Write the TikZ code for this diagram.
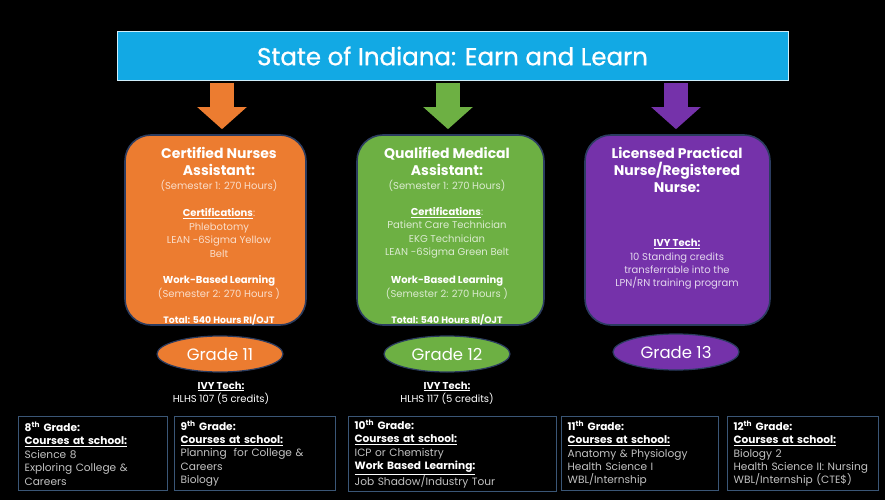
\documentclass[tikz,border=0pt]{standalone}
\usepackage{fontspec}
\setmainfont{Poppins}
\newfontfamily\titlefont[FakeBold=0.8]{Poppins}
\usepackage{xcolor}
\usetikzlibrary{arrows.meta,shapes.geometric}

\definecolor{titleblue}{HTML}{12A9E4}
\definecolor{cnaorange}{HTML}{EC7C30}
\definecolor{qmagreen}{HTML}{6DB043}
\definecolor{lpnpurple}{HTML}{7532AA}
\definecolor{edgenavy}{HTML}{2B3C60}
\definecolor{gridblue}{HTML}{3A5676}
\definecolor{softgray}{HTML}{C2C2C2}

\newcommand{\wbold}[1]{\textcolor{white}{\bfseries #1}}

\begin{document}
\begin{tikzpicture}
[
x=1pt,y=-1pt,
track/.style 2 args={draw=edgenavy,line width=1.6pt,fill=#1,rounded corners=26pt,
            minimum width=#2,minimum height=190pt,inner sep=0pt},
headtxt/.style={text=white,font=\bfseries\fontsize{14}{17}\selectfont,align=center},
subtxt/.style={text=#1,font=\fontsize{10}{13.4}\selectfont,align=center},
gradeoval/.style={ellipse,draw=edgenavy,line width=1.2pt,fill=#1,minimum width=126pt,
            minimum height=36pt,text=white,font=\fontsize{16.5}{18}\selectfont},
downarrow/.style={draw=#1,line width=24pt,shorten <=2pt,shorten >=5pt,
            -{Triangle[width=48pt,length=22pt]}},
yearbox/.style={draw=gridblue,line width=1.3pt,fill=black,anchor=north west,
            minimum width=#1,text width=#1-12pt,minimum height=74pt,inner xsep=6pt,
            align=left,text=softgray,font=\fontsize{10.6}{13.4}\selectfont},
]
\useasboundingbox[fill=black] (0,0) rectangle (885,500);

%Title bar
\node[draw=white!80!titleblue,line width=0.8pt,fill=titleblue,minimum width=671pt,
      minimum height=49pt,text=white,font=\titlefont\fontsize{24.5}{28}\selectfont] (title) at (452.5,56)
      {State of Indiana: Earn and Learn};

%Place the career tracks
\node[track={cnaorange}{181pt}] (cna) at (215.5,230) {};   %cna = orange
\node[track={qmagreen}{187pt}] (qma) at (450.5,230) {};    %qma = green
\node[track={lpnpurple}{185pt}] (lpn) at (677.5,230) {};   %lpn = purple

%arrows from title
\draw[downarrow=cnaorange] ([xshift=6.5pt]title.south -| cna.north) -- ([xshift=6.5pt]cna.north);
\draw[downarrow=qmagreen] ([xshift=-2.5pt]title.south -| qma.north) -- ([xshift=-2.5pt]qma.north);
\draw[downarrow=lpnpurple] ([xshift=-1.5pt]title.south -| lpn.north) -- ([xshift=-1.5pt]lpn.north);

%text of cna
\node[headtxt] (cnahead) at (219,161.5) {Certified Nurses\\Assistant:};
\node[subtxt=white!75!cnaorange] (cnasem) at (219,186) {(Semester 1: 270 Hours)};
\node[subtxt=white!75!cnaorange] (cnacert) at (219,233)
      {\wbold{\underline{Certifications}}:\\Phlebotomy\\LEAN -6Sigma Yellow\\Belt};
\node[subtxt=white!75!cnaorange] (cnawbl) at (219,287.5)
      {\wbold{Work-Based Learning}\\[1pt](Semester 2: 270 Hours )};
\node[subtxt=white,font=\bfseries\fontsize{9.3}{12}\selectfont] (cnatotal) at (219,320) {Total: 540 Hours RI/OJT};

%text of qma
\node[headtxt] (qmahead) at (447,161.5) {Qualified Medical\\Assistant:};
\node[subtxt=white!75!qmagreen] (qmasem) at (447,186) {(Semester 1: 270 Hours)};
\node[subtxt=white!75!qmagreen] (qmacert) at (447,233)
      {\wbold{\underline{Certifications}}:\\Patient Care Technician\\EKG Technician\\LEAN -6Sigma Green Belt};
\node[subtxt=white!75!qmagreen] (qmawbl) at (447,287.5)
      {\wbold{Work-Based Learning}\\[1pt](Semester 2: 270 Hours )};
\node[subtxt=white,font=\bfseries\fontsize{9.3}{12}\selectfont] (qmatotal) at (447,320) {Total: 540 Hours RI/OJT};

%text of lpn
\node[headtxt] (lpnhead) at (677,170) {Licensed Practical\\Nurse/Registered\\Nurse:};
\node[subtxt=white!80!lpnpurple] (lpnivy) at (677,264.5)
      {\wbold{\underline{IVY Tech:}}\\10 Standing credits\\transferrable into the\\LPN/RN training program};

%grades
\node[gradeoval=cnaorange] (g11) at (220,354) {Grade 11};
\node[gradeoval=qmagreen] (g12) at (447,354) {Grade 12};
\node[gradeoval=lpnpurple] (g13) at (676,352) {Grade 13};

\node[subtxt=white] (ivy11) at (221,393) {\bfseries\underline{IVY Tech:}\\HLHS 107 (5 credits)};
\node[subtxt=white] (ivy12) at (447,393) {\bfseries\underline{IVY Tech:}\\HLHS 117 (5 credits)};

%school years
\node[yearbox=149pt] (y8) at (18,416)
      {\wbold{8\textsuperscript{th} Grade:}\\\wbold{\underline{Courses at school:}}\\Science 8\\Exploring College \&\\Careers};
\node[yearbox=161pt] (y9) at (174,416)
      {\wbold{9\textsuperscript{th} Grade:}\\\wbold{\underline{Courses at school:}}\\Planning\ \ for College \&\\Careers\\Biology};
\node[yearbox=208pt] (y10) at (348,416)
      {\wbold{10\textsuperscript{th} Grade:}\\\wbold{\underline{Courses at school:}}\\ICP or Chemistry\\\wbold{\underline{Work Based Learning:}}\\Job Shadow/Industry Tour};
\node[yearbox=157pt] (y11) at (561,416)
      {\wbold{11\textsuperscript{th} Grade:}\\\wbold{\underline{Courses at school:}}\\Anatomy \& Physiology\\Health Science I\\WBL/Internship};
\node[yearbox=151pt] (y12) at (727,416)
      {\wbold{12\textsuperscript{th} Grade:}\\\wbold{\underline{Courses at school:}}\\Biology 2\\Health Science II: Nursing\\WBL/Internship (CTE\$)};
\end{tikzpicture}
\end{document}
